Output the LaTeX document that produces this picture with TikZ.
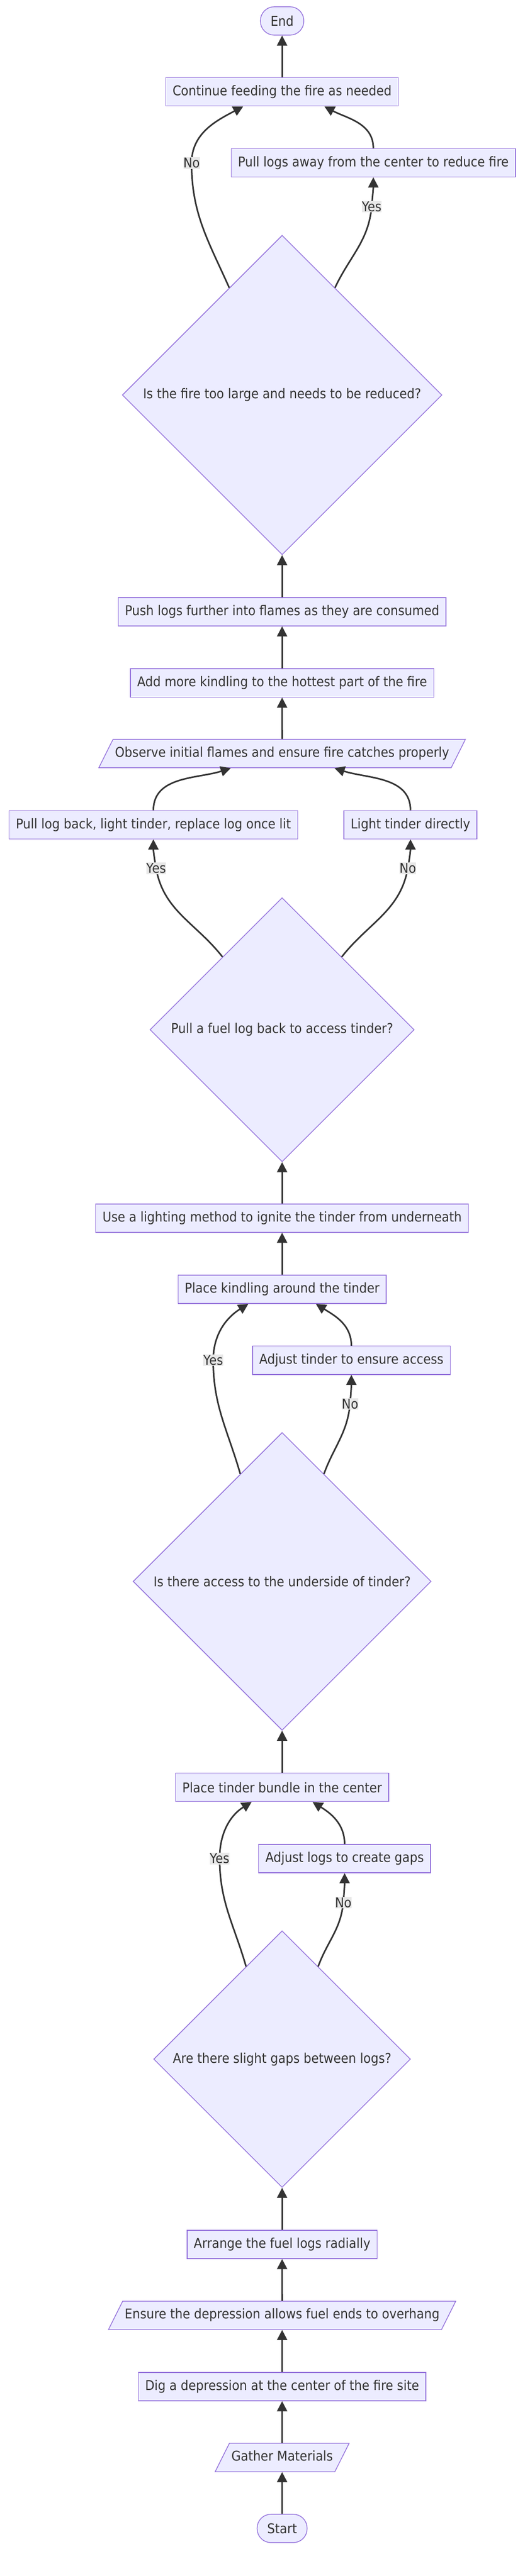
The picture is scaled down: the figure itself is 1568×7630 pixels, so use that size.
\documentclass[tikz,border=0pt]{standalone}
\usepackage{fontspec}
\setmainfont{DejaVu Sans}[FakeStretch=0.9]
\usepackage{xcolor}
\usetikzlibrary{arrows.meta,calc,shapes.geometric,positioning}

\definecolor{mfill}{HTML}{ECECFF}
\definecolor{mborder}{HTML}{9370DB}
\definecolor{mtext}{HTML}{333333}
\definecolor{mlabel}{HTML}{E8E8E8}

\tikzset{
    process/.style={rectangle, draw=mborder, fill=mfill, line width=1.1pt, minimum height=42pt, inner xsep=10pt, text=mtext},
    io/.style={trapezium, trapezium left angle=63.4, trapezium right angle=116.6, draw=mborder, fill=mfill, line width=1.1pt, text height=15pt, text depth=5pt, inner ysep=11pt, inner xsep=3pt, text=mtext},
    terminal/.style={rectangle, rounded corners=20.5pt, draw=mborder, fill=mfill, line width=1.1pt, minimum height=42pt, inner xsep=15pt, text=mtext},
    decision/.style={diamond, aspect=1, draw=mborder, fill=mfill, line width=1.1pt, inner sep=0pt, minimum size=#1, text=mtext},
    flow/.style={draw=mtext, line width=2.3pt, -{Triangle[length=15pt,width=15pt]}},
    elabel/.style={fill=mlabel, text=mtext, inner xsep=0pt, inner ysep=1pt}
}

\begin{document}
\begin{tikzpicture}[x=0.5pt,y=0.5pt,font=\fontsize{20pt}{24pt}\selectfont]
        \useasboundingbox (0,0) rectangle (1568,-7630);
        % steps, from the top down
        \node[terminal] (end) at (835,-62) {End};
        \node[process] (cont) at (835,-272) {Continue feeding the fire as needed};
        \node[process] (pullaway) at (1105,-482) {Pull logs away from the center to reduce fire};
        \node[decision=473pt] (dfire) at (835,-1170) {\makebox[0pt]{Is the fire too large and needs to be reduced?}};
        \node[process] (push) at (835,-1812) {Push logs further into flames as they are consumed};
        \node[process] (kindmore) at (835,-2023) {Add more kindling to the hottest part of the fire};
        \node[io] (observe) at (835,-2232) {Observe initial flames and ensure fire catches properly};
        \node[process] (pullback) at (454,-2443) {Pull log back, light tinder, replace log once lit};
        \node[process] (lightdir) at (1215,-2443) {Light tinder directly};
        \node[decision=391pt] (dpull) at (835,-3050) {\makebox[0pt]{Pull a fuel log back to access tinder?}};
        \node[process] (lighting) at (835,-3608) {Use a lighting method to ignite the tinder from underneath};
        \node[process] (kindling) at (835,-3819) {Place kindling around the tinder};
        \node[process] (adjtinder) at (1040,-4029) {Adjust tinder to ensure access};
        \node[decision=441pt] (daccess) at (835,-4684) {\makebox[0pt]{Is there access to the underside of tinder?}};
        \node[process] (tinder) at (835,-5294) {Place tinder bundle in the center};
        \node[process] (adjlogs) at (1020,-5505) {Adjust logs to create gaps};
        \node[decision=380pt] (dgaps) at (835,-6099) {\makebox[0pt]{Are there slight gaps between logs?}};
        \node[process] (arrange) at (835,-6648) {Arrange the fuel logs radially};
        \node[io] (ensure) at (835,-6858) {Ensure the depression allows fuel ends to overhang};
        \node[process] (dig) at (835,-7069) {Dig a depression at the center of the fire site};
        \node[io] (gather) at (835,-7279) {Gather Materials};
        \node[terminal] (start) at (835,-7489) {Start};

        % straight links
        \draw[flow] (start.north) -- (gather.south);
        \draw[flow] (gather.north) -- (dig.south);
        \draw[flow] (dig.north) -- (ensure.south);
        \draw[flow] (ensure.north) -- (arrange.south);
        \draw[flow] (arrange.north) -- (dgaps.south);
        \draw[flow] (tinder.north) -- (daccess.south);
        \draw[flow] (kindling.north) -- (lighting.south);
        \draw[flow] (lighting.north) -- (dpull.south);
        \draw[flow] (observe.north) -- (kindmore.south);
        \draw[flow] (kindmore.north) -- (push.south);
        \draw[flow] (push.north) -- (dfire.south);
        \draw[flow] (cont.north) -- (end.south);

        % gaps between logs?
        \draw[flow] ($(dgaps.north)!0.28!(dgaps.west)$) to[out=106,in=-90] (650,-5505) node[elabel] (lyes4) {Yes} to[out=90,in=212] ($(tinder.south)+(-90,0)$);
        \draw[flow] ($(dgaps.north)!0.28!(dgaps.east)$) to[out=70,in=-95] (1016,-5635) node[elabel] (lno4) {No} to[out=85,in=-90] (adjlogs.south);
        \draw[flow] (adjlogs.north) to[out=90,in=-32] ($(tinder.south)+(90,0)$);

        % access to the underside?
        \draw[flow] ($(daccess.north)!0.28!(daccess.west)$) to[out=106,in=-90] (631,-4029) node[elabel] (lyes3) {Yes} to[out=90,in=212] ($(kindling.south)+(-100,0)$);
        \draw[flow] ($(daccess.north)!0.28!(daccess.east)$) to[out=70,in=-95] (1036,-4158) node[elabel] (lno3) {No} to[out=85,in=-90] (adjtinder.south);
        \draw[flow] (adjtinder.north) to[out=90,in=-32] ($(kindling.south)+(100,0)$);

        % pull a log back?
        \draw[flow] ($(dpull.north)!0.45!(dpull.west)$) to[out=128,in=-80] (462,-2572) node[elabel] (lyes2) {Yes} to[out=100,in=-90] (pullback.south);
        \draw[flow] ($(dpull.north)!0.45!(dpull.east)$) to[out=52,in=-100] (1207,-2572) node[elabel] (lno2) {No} to[out=80,in=-90] (lightdir.south);
        \draw[flow] (pullback.north) to[out=90,in=198] ($(observe.south)+(-152,0)$);
        \draw[flow] (lightdir.north) to[out=90,in=-18] ($(observe.south)+(155,0)$);

        % fire too large?
        \draw[flow] ($(dfire.north)!0.33!(dfire.west)$) to[out=114,in=-90] (567,-483) node[elabel] (lno1) {No} to[out=90,in=208] ($(cont.south)+(-115,0)$);
        \draw[flow] ($(dfire.north)!0.33!(dfire.east)$) to[out=65,in=-95] (1100,-612) node[elabel] (lyes1) {Yes} to[out=85,in=-90] (pullaway.south);
        \draw[flow] (pullaway.north) to[out=90,in=-28] ($(cont.south)+(125,0)$);
\end{tikzpicture}
\end{document}
